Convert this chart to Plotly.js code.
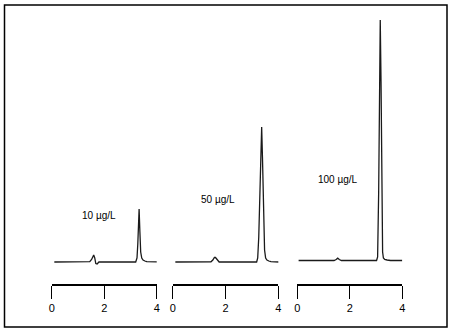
<!DOCTYPE html>
<html>
<head>
<meta charset="utf-8">
<script src="https://cdn.plot.ly/plotly-3.0.1.min.js"></script>
<style>html,body{margin:0;padding:0;background:#fff;}#chart{width:453px;height:333px;}</style>
</head>
<body>
<div id="chart"></div>
<script>
// Retention time (min) and detector signal (arbitrary units)
const labels = ["10 µg/L", "50 µg/L", "100 µg/L"];
const tickVals = [0, 2, 4];

const time10 = [0.1, 1.45, 1.52, 1.56, 1.60, 1.64, 1.68, 1.73, 1.80, 3.20, 3.25, 3.28, 3.31, 3.33, 3.36, 3.39, 3.43, 3.48, 3.55, 3.62, 4.05];
const signal10 = [0, 0.3, 2.5, 5.5, 7, 4, -1.5, -2, 0, 0, 4, 18, 40, 53, 30, 10, 4, 2, 1, 0.3, 0];

const time50 = [0.1, 1.45, 1.52, 1.58, 1.62, 1.68, 1.76, 3.18, 3.22, 3.26, 3.30, 3.34, 3.37, 3.40, 3.44, 3.48, 3.52, 3.57, 3.64, 3.72, 4.05];
const signal50 = [0, 0.2, 2, 4.5, 4.5, 2, 0, 0, 4, 25, 70, 115, 135, 105, 50, 12, 4, 2, 1, 0.3, 0];

const time100 = [0.05, 1.40, 1.48, 1.54, 1.60, 1.68, 3.02, 3.06, 3.10, 3.13, 3.16, 3.19, 3.22, 3.25, 3.28, 3.33, 3.42, 3.55, 4.0];
const signal100 = [1.5, 1.5, 2.5, 3.8, 2.5, 1.5, 1.5, 5, 70, 200, 242, 180, 60, 10, 4, 2.5, 2, 1.5, 1.5];

const W = 453, H = 333;
const px = v => v / W;
const py = v => 1 - v / H;

const lineStyle = {color: '#1a1a1a', width: 1.3};
const traces = [
  {x: time10, y: signal10, xaxis: 'x', yaxis: 'y', mode: 'lines', line: lineStyle, hoverinfo: 'skip'},
  {x: time50, y: signal50, xaxis: 'x2', yaxis: 'y2', mode: 'lines', line: lineStyle, hoverinfo: 'skip'},
  {x: time100, y: signal100, xaxis: 'x3', yaxis: 'y3', mode: 'lines', line: lineStyle, hoverinfo: 'skip'}
];

const xBase = {
  range: [0, 4], tickvals: tickVals, ticktext: tickVals.map(String),
  showline: true, linecolor: '#000', linewidth: 1.5,
  ticks: 'outside', ticklen: 13, tickwidth: 1.3, tickcolor: '#000',
  showgrid: false, zeroline: false, fixedrange: true,
  tickfont: {family: 'Liberation Sans, Arial, sans-serif', size: 11, color: '#000'}
};
const yDom = [py(284), py(5)];
const yBase = {range: [-22, 257], domain: yDom, visible: false, fixedrange: true, showgrid: false, zeroline: false};

const layout = {
  width: W, height: H,
  margin: {l: 0, r: 0, t: 0, b: 0},
  paper_bgcolor: '#fff', plot_bgcolor: '#fff',
  showlegend: false,
  xaxis: Object.assign({}, xBase, {domain: [px(51.7), px(156.7)], anchor: 'y'}),
  xaxis2: Object.assign({}, xBase, {domain: [px(172.7), px(278.3)], anchor: 'y2'}),
  xaxis3: Object.assign({}, xBase, {domain: [px(297.3), px(402.3)], anchor: 'y3'}),
  yaxis: Object.assign({}, yBase, {anchor: 'x'}),
  yaxis2: Object.assign({}, yBase, {anchor: 'x2'}),
  yaxis3: Object.assign({}, yBase, {anchor: 'x3'}),
  shapes: [
    {type: 'rect', xref: 'paper', yref: 'paper', x0: px(4.5), x1: px(447), y0: py(327), y1: py(5), line: {color: '#000', width: 1.5}}
  ],
  annotations: [
    {text: labels[0], xref: 'paper', yref: 'paper', x: px(98.5), y: py(215), showarrow: false, xanchor: 'center', yanchor: 'middle', font: {family: 'Liberation Sans, Arial, sans-serif', size: 10, color: '#000'}},
    {text: labels[1], xref: 'paper', yref: 'paper', x: px(217.5), y: py(199), showarrow: false, xanchor: 'center', yanchor: 'middle', font: {family: 'Liberation Sans, Arial, sans-serif', size: 10, color: '#000'}},
    {text: labels[2], xref: 'paper', yref: 'paper', x: px(337.5), y: py(179), showarrow: false, xanchor: 'center', yanchor: 'middle', font: {family: 'Liberation Sans, Arial, sans-serif', size: 10, color: '#000'}}
  ]
};

Plotly.newPlot('chart', traces, layout, {staticPlot: true, displayModeBar: false});
</script>
</body>
</html>
